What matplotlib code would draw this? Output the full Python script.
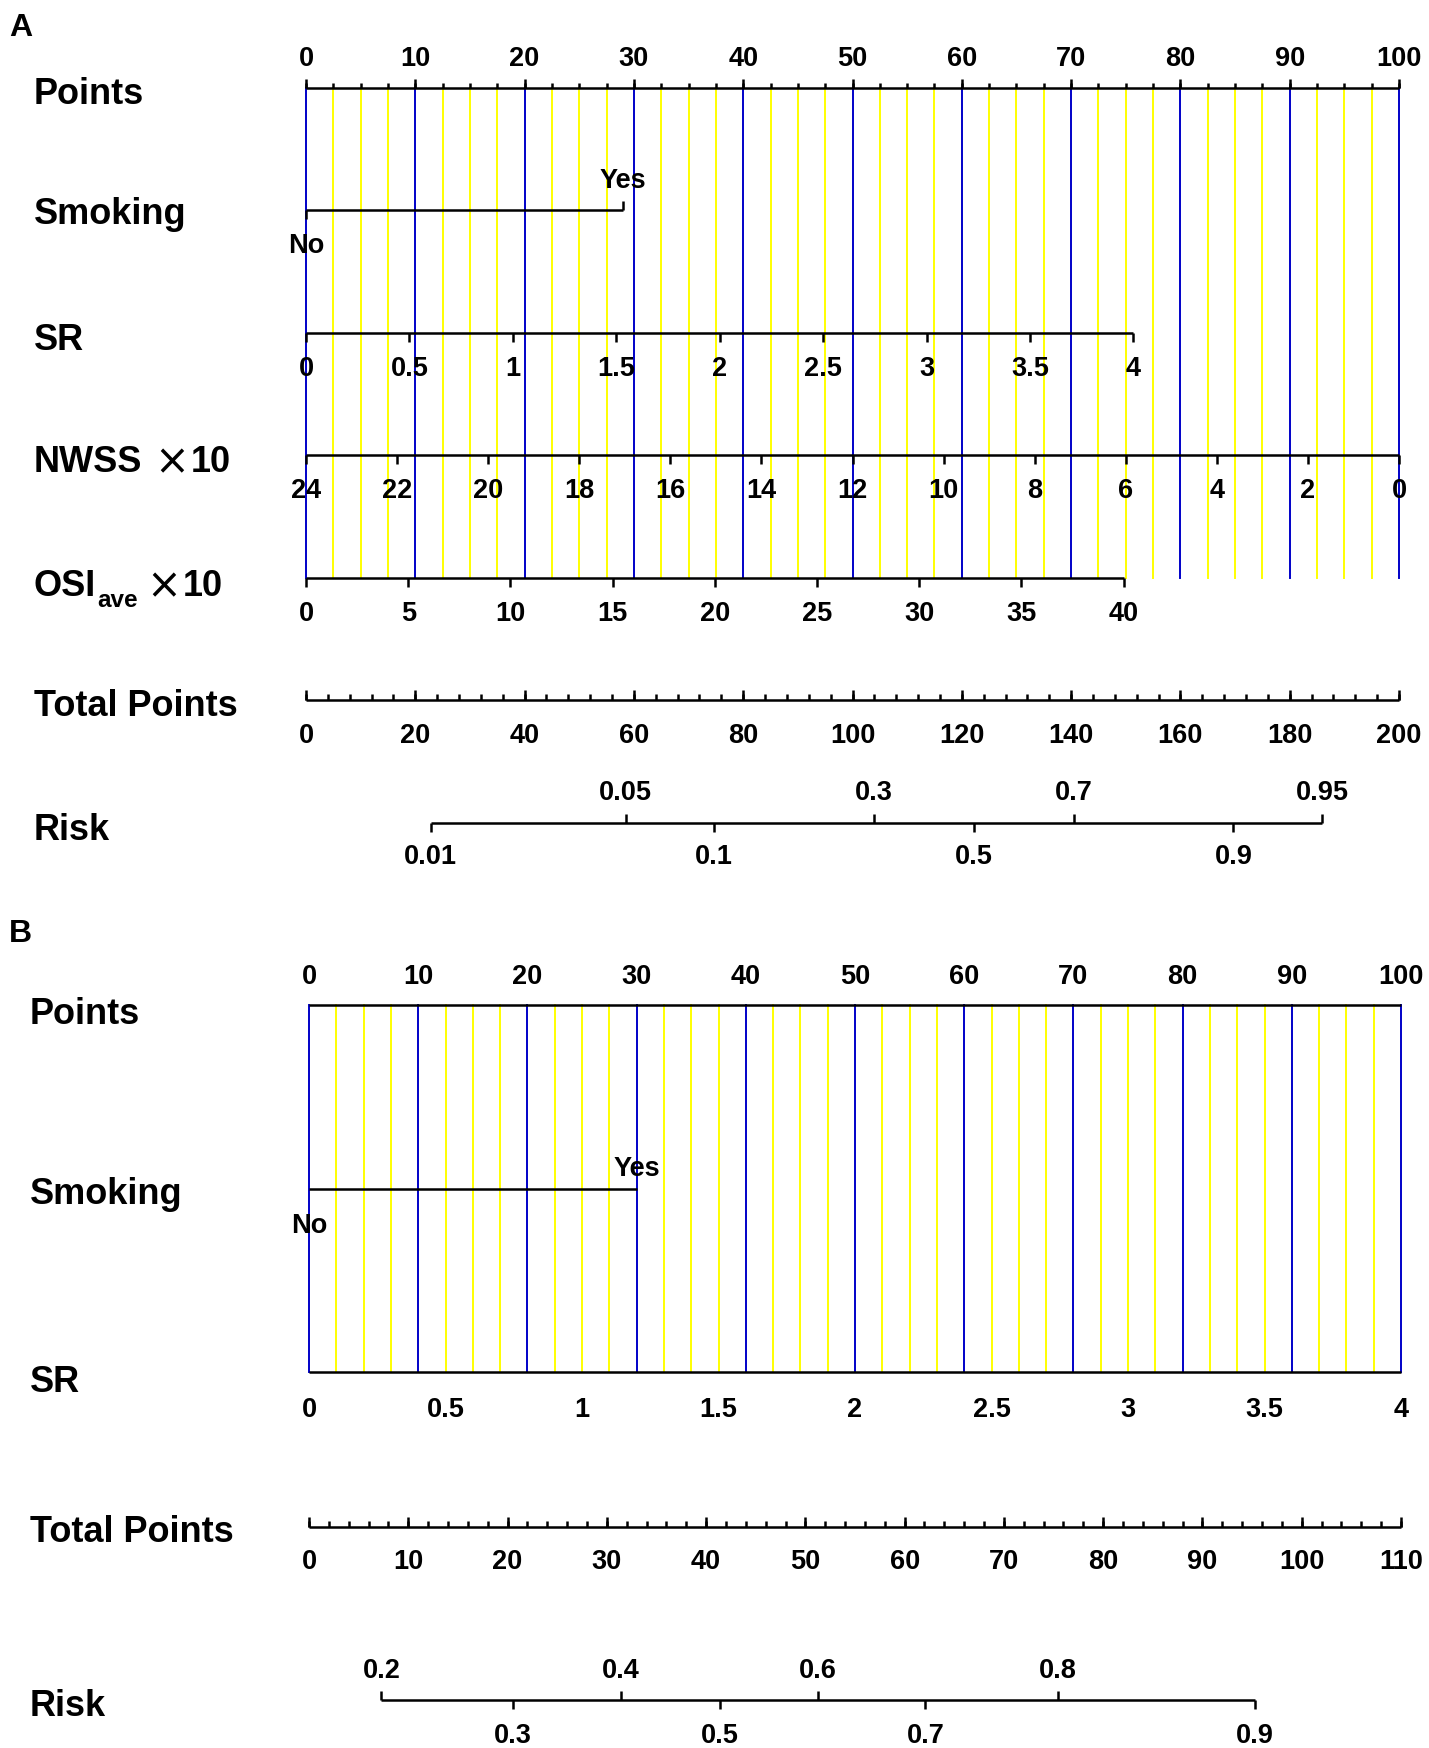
import matplotlib
matplotlib.use("Agg")
import matplotlib.pyplot as plt

# ---------------- data ----------------
# Panel A
pointsA_major = [0, 10, 20, 30, 40, 50, 60, 70, 80, 90, 100]
pointsA_minor_step = 2.5
smokingA_levels = ["No", "Yes"]
smokingA_points = [0.0, 29.0]
srA_values = [0, 0.5, 1, 1.5, 2, 2.5, 3, 3.5, 4]
srA_labels = ["0", "0.5", "1", "1.5", "2", "2.5", "3", "3.5", "4"]
srA_max_points = 75.7          # points for SR = 4
nwss_values = [24, 22, 20, 18, 16, 14, 12, 10, 8, 6, 4, 2, 0]
nwss_max_points = 100.0        # points for NWSS = 0 (NWSS = 24 -> 0 points)
osi_values = [0, 5, 10, 15, 20, 25, 30, 35, 40]
osi_max_points = 74.8          # points for OSI = 40
totalA_major = [0, 20, 40, 60, 80, 100, 120, 140, 160, 180, 200]
totalA_minor_step = 4
riskA_upper_labels = ["0.05", "0.3", "0.7", "0.95"]
riskA_upper_tp = [58.5, 103.9, 140.5, 185.9]
riskA_lower_labels = ["0.01", "0.1", "0.5", "0.9"]
riskA_lower_tp = [22.8, 74.7, 122.2, 169.7]

# Panel B
pointsB_major = [0, 10, 20, 30, 40, 50, 60, 70, 80, 90, 100]
smokingB_levels = ["No", "Yes"]
smokingB_points = [0.0, 30.0]
srB_values = [0, 0.5, 1, 1.5, 2, 2.5, 3, 3.5, 4]
srB_labels = ["0", "0.5", "1", "1.5", "2", "2.5", "3", "3.5", "4"]
srB_max_points = 100.0
totalB_major = [0, 10, 20, 30, 40, 50, 60, 70, 80, 90, 100, 110]
totalB_minor_step = 2
riskB_upper_labels = ["0.2", "0.4", "0.6", "0.8"]
riskB_upper_tp = [7.3, 31.4, 51.3, 75.4]
riskB_lower_labels = ["0.3", "0.5", "0.7", "0.9"]
riskB_lower_tp = [20.5, 41.4, 62.1, 95.3]

# ---------------- style ----------------
W, H = 1429, 1748
FONT = ["Liberation Sans", "DejaVu Sans"]
BLUE = "#0000C8"
YELLOW = "#FFFF00"
LW_AX = 1.8
LW_GRID = 1.4
TICK_FS = 19.5
ROW_FS = 26

fig = plt.figure(figsize=(W / 100, H / 100), dpi=100)
fig.patch.set_facecolor("white")


def make_axes(px0, px_per_pt):
    ax = fig.add_axes([0, 0, 1, 1])
    xmin = -px0 / px_per_pt
    ax.set_xlim(xmin, xmin + W / px_per_pt)
    ax.set_ylim(H, 0)
    ax.axis("off")
    return ax


axA = make_axes(306, 10.93)
axB = make_axes(309, 10.92)
axT = fig.add_axes([0, 0, 1, 1])
axT.set_xlim(0, W)
axT.set_ylim(H, 0)
axT.axis("off")


def hline(ax, y, x0, x1):
    ax.plot([x0, x1], [y, y], color="black", lw=LW_AX, solid_capstyle="butt", zorder=3)


def ticks(ax, y, xs, length, direction):
    # direction -1 = up, +1 = down (pixel y grows downward)
    ax.vlines(xs, y, y + direction * length, color="black", lw=LW_AX, zorder=3)


def labels(ax, xs, y, texts, fs=TICK_FS):
    for x, s in zip(xs, texts):
        ax.text(x, y, s, ha="center", va="center_baseline", fontsize=fs,
                fontweight="bold", family=FONT, zorder=4)


def grid(ax, y0, y1, maxpt, step_minor, step_major):
    n = int(round(maxpt / step_minor))
    for i in range(n + 1):
        v = i * step_minor
        is_major = abs(v / step_major - round(v / step_major)) < 1e-9
        ax.plot([v, v], [y0, y1], color=BLUE if is_major else YELLOW,
                lw=LW_GRID, zorder=2 if is_major else 1)


def row_label(x, y, s):
    axT.text(x, y, s, ha="left", va="center_baseline", fontsize=ROW_FS,
             fontweight="bold", family=FONT)


# ======================= Panel A =======================
axT.text(9, 25, "A", ha="left", va="center_baseline", fontsize=23,
         fontweight="bold", family=FONT)

yP, ySm, ySR, yNW, yOSI, yTot, yRisk = 88, 210, 333, 455, 578, 700, 823

grid(axA, yP, yOSI, 100, pointsA_minor_step, 10)

# Points
hline(axA, yP, pointsA_major[0], pointsA_major[-1])
ticks(axA, yP, pointsA_major, 9, -1)
minorA = [i * pointsA_minor_step for i in range(int(100 / pointsA_minor_step) + 1)]
ticks(axA, yP, minorA, 5, -1)
labels(axA, pointsA_major, 56, [str(v) for v in pointsA_major])
row_label(34, 91, "Points")

# Smoking
hline(axA, ySm, smokingA_points[0], smokingA_points[1])
ticks(axA, ySm, [smokingA_points[1]], 9, -1)
ticks(axA, ySm, [smokingA_points[0]], 9, 1)
labels(axA, [smokingA_points[1]], 178, [smokingA_levels[1]])
labels(axA, [smokingA_points[0]], 243, [smokingA_levels[0]])
row_label(34, 210, "Smoking")

# SR
sr_pts = [v / srA_values[-1] * srA_max_points for v in srA_values]
hline(axA, ySR, sr_pts[0], sr_pts[-1])
ticks(axA, ySR, sr_pts, 9, 1)
labels(axA, sr_pts, 366, srA_labels)
row_label(34, 337, "SR")

# NWSS
nw_pts = [(nwss_values[0] - v) / nwss_values[0] * nwss_max_points for v in nwss_values]
hline(axA, yNW, nw_pts[0], nw_pts[-1])
ticks(axA, yNW, nw_pts, 9, 1)
labels(axA, nw_pts, 488, [str(v) for v in nwss_values])

# OSI
osi_pts = [v / osi_values[-1] * osi_max_points for v in osi_values]
hline(axA, yOSI, osi_pts[0], osi_pts[-1])
ticks(axA, yOSI, osi_pts, 9, 1)
labels(axA, osi_pts, 611, [str(v) for v in osi_values])

# Total points A
tA = [v / totalA_major[-1] * 100 for v in totalA_major]
hline(axA, yTot, tA[0], tA[-1])
ticks(axA, yTot, tA, 10, -1)
minTA = [i * totalA_minor_step / totalA_major[-1] * 100
         for i in range(int(totalA_major[-1] / totalA_minor_step) + 1)]
ticks(axA, yTot, minTA, 6, -1)
labels(axA, tA, 733, [str(v) for v in totalA_major])
row_label(34, 703, "Total Points")

# Risk A
ru = [v / totalA_major[-1] * 100 for v in riskA_upper_tp]
rl = [v / totalA_major[-1] * 100 for v in riskA_lower_tp]
hline(axA, yRisk, min(ru + rl), max(ru + rl))
ticks(axA, yRisk, ru, 9, -1)
ticks(axA, yRisk, rl, 9, 1)
labels(axA, ru, 790, riskA_upper_labels)
labels(axA, rl, 854, riskA_lower_labels)
row_label(34, 826, "Risk")

# ======================= Panel B =======================
axT.text(9, 930, "B", ha="left", va="center_baseline", fontsize=23,
         fontweight="bold", family=FONT)

yPB, ySmB, ySRB, yTotB, yRiskB = 1005, 1189, 1372, 1527, 1700

grid(axB, yPB, ySRB, 100, 2.5, 10)

hline(axB, yPB, pointsB_major[0], pointsB_major[-1])
labels(axB, pointsB_major, 974, [str(v) for v in pointsB_major])
row_label(30, 1010, "Points")

hline(axB, ySmB, smokingB_points[0], smokingB_points[1])
labels(axB, [smokingB_points[1]], 1166, [smokingB_levels[1]])
labels(axB, [smokingB_points[0]], 1223, [smokingB_levels[0]])
row_label(30, 1190, "Smoking")

srb_pts = [v / srB_values[-1] * srB_max_points for v in srB_values]
hline(axB, ySRB, srb_pts[0], srb_pts[-1])
labels(axB, srb_pts, 1407, srB_labels)
row_label(30, 1378, "SR")

tB = [v / totalB_major[-1] * 100 for v in totalB_major]
hline(axB, yTotB, tB[0], tB[-1])
ticks(axB, yTotB, tB, 10, -1)
minTB = [i * totalB_minor_step / totalB_major[-1] * 100
         for i in range(int(totalB_major[-1] / totalB_minor_step) + 1)]
ticks(axB, yTotB, minTB, 6, -1)
labels(axB, tB, 1559, [str(v) for v in totalB_major])
row_label(30, 1529, "Total Points")

rub = [v / totalB_major[-1] * 100 for v in riskB_upper_tp]
rlb = [v / totalB_major[-1] * 100 for v in riskB_lower_tp]
hline(axB, yRiskB, min(rub + rlb), max(rub + rlb))
ticks(axB, yRiskB, rub, 9, -1)
ticks(axB, yRiskB, rlb, 9, 1)
labels(axB, rub, 1668, riskB_upper_labels)
labels(axB, rlb, 1733, riskB_lower_labels)
row_label(30, 1703, "Risk")

# ---------- composite labels: NWSS ×10 and OSI_ave ×10 ----------
renderer = fig.canvas.get_renderer()


def put(x, y, s, fs, weight, family=FONT):
    t = axT.text(x, y, s, ha="left", va="center_baseline", fontsize=fs,
                 fontweight=weight, family=family)
    bb = t.get_window_extent(renderer)
    return bb.x1


XFONT = ["DejaVu Sans", "Liberation Sans"]
x = put(34, 459, "NWSS", ROW_FS, "bold")
x = put(x + 12, 458, "\u00d7", 30, "normal", XFONT)
put(x + 2, 459, "10", ROW_FS, "bold")

x = put(34, 583, "OSI", ROW_FS, "bold")
x = put(x + 1, 598, "ave", 17.5, "bold")
x = put(x + 8, 582, "\u00d7", 30, "normal", XFONT)
put(x + 2, 583, "10", ROW_FS, "bold")

fig.savefig("out.png", dpi=100, facecolor="white")
